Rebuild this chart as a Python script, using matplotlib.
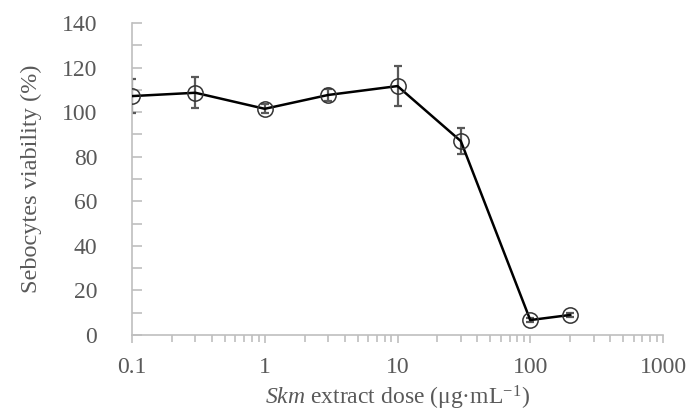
import numpy as np
import matplotlib.pyplot as plt
from matplotlib.ticker import FixedLocator, LogLocator, NullFormatter

# Data
dose = [0.1, 0.3, 1, 3, 10, 30, 100, 200]           # ug/mL
viability = [107.2, 108.7, 101.5, 107.7, 111.7, 87.0, 6.7, 9.0]   # %
err = [7.8, 7.0, 2.0, 2.5, 9.0, 6.0, 1.0, 1.0]

plt.rcParams['font.family'] = ['Liberation Serif', 'DejaVu Serif']
plt.rcParams['mathtext.fontset'] = 'custom'
plt.rcParams['mathtext.rm'] = 'Liberation Serif'
plt.rcParams['mathtext.it'] = 'Liberation Serif:italic'

axis_col = '#bfbfbf'
text_col = '#595959'

fig = plt.figure(figsize=(6.89, 4.15), dpi=100)
ax = fig.add_axes([132 / 689, 1 - 335 / 415, (663 - 132) / 689, (335 - 23) / 415])

ax.errorbar(dose, viability, yerr=err, fmt='none', ecolor=text_col,
            elinewidth=1.6, capsize=3, capthick=1.6, zorder=2)
ax.plot(dose, viability, color='black', lw=1.8, marker='o', ms=11,
        mfc='none', mec='#333333', mew=1.1, zorder=3)

ax.set_xscale('log')
ax.set_xlim(0.1, 1000)
ax.set_ylim(0, 140)
ax.set_xticks([0.1, 1, 10, 100, 1000])
ax.set_xticklabels(['0.1', '1', '10', '100', '1000'])
ax.xaxis.set_minor_locator(LogLocator(base=10, subs=np.arange(2, 10)))
ax.xaxis.set_minor_formatter(NullFormatter())
ax.set_yticks(np.arange(0, 141, 20))
ax.yaxis.set_minor_locator(FixedLocator(np.arange(10, 140, 20)))

for s in ['top', 'right']:
    ax.spines[s].set_visible(False)
for s in ['left', 'bottom']:
    ax.spines[s].set_color(axis_col)
    ax.spines[s].set_linewidth(1.2)

ax.tick_params(axis='x', which='both', direction='out', color=axis_col,
               width=1.2, labelcolor=text_col, labelsize=17, pad=10)
ax.tick_params(axis='x', which='major', length=6)
ax.tick_params(axis='x', which='minor', length=5)
ax.tick_params(axis='y', which='both', direction='in', color=axis_col,
               width=1.2, length=7, labelcolor=text_col, labelsize=17, pad=25)

ax.set_xlabel(r'$\mathit{Skm}$ extract dose (μg·mL$^{-1}$)', color=text_col,
              fontsize=17, labelpad=4)
ax.set_ylabel('Sebocytes viability (%)', color=text_col, fontsize=17.5,
              labelpad=14)

fig.savefig('out.png', dpi=100)
